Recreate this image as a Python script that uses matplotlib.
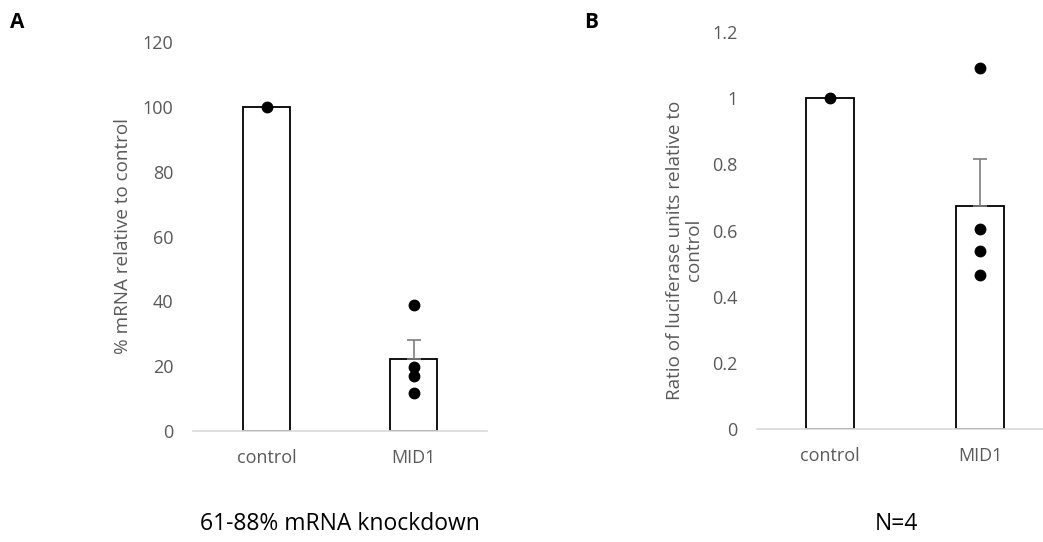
import matplotlib
matplotlib.use("Agg")
import matplotlib.pyplot as plt

categories = ["control", "MID1"]

# Panel A
a_means = [100, 22.1]
a_err_up = [0, 6.0]
a_points = {"control": [100], "MID1": [38.9, 19.8, 17.0, 11.8]}
a_ticks = [0, 20, 40, 60, 80, 100, 120]

# Panel B
b_means = [1.0, 0.675]
b_err_up = [0, 0.142]
b_points = {"control": [1.0], "MID1": [1.091, 0.605, 0.537, 0.467]}
b_ticks = [0, 0.2, 0.4, 0.6, 0.8, 1.0, 1.2]
b_ticklabels = ["0", "0.2", "0.4", "0.6", "0.8", "1", "1.2"]

plt.rcParams['font.family'] = ['Open Sans', 'DejaVu Sans']

fig = plt.figure(figsize=(10.43, 5.42), dpi=100)
grey = "#595959"

def style(ax, ylim, ticks, ticklabels, xlim):
    ax.set_ylim(*ylim)
    ax.set_xlim(*xlim)
    ax.set_yticks(ticks)
    ax.set_yticklabels(ticklabels)
    for s in ["top", "right", "left"]:
        ax.spines[s].set_visible(False)
    ax.spines["bottom"].set_color("#d9d9d9")
    ax.spines["bottom"].set_linewidth(1.2)
    ax.tick_params(axis="y", length=0, pad=14, labelsize=13, labelcolor=grey)
    ax.tick_params(axis="x", length=0, pad=13, labelsize=13, labelcolor=grey)
    ax.set_xticks(range(len(categories)))
    ax.set_xticklabels(categories)
    ax.patch.set_alpha(0)

def draw(ax, means, err_up, points):
    x = list(range(len(categories)))
    ax.bar(x, means, width=0.32, color="white", edgecolor="black", linewidth=1.3, zorder=2)
    ax.errorbar(x[1:], means[1:], yerr=[[0], err_up[1:]], fmt="none", ecolor="#7f7f7f",
                elinewidth=1.2, capsize=5, capthick=1.2, zorder=3)
    for i, c in enumerate(categories):
        ax.plot([i] * len(points[c]), points[c], "o", color="black", ms=7.5, zorder=4,
                clip_on=False)

# Panel A
axA = fig.add_axes([193/1043, 111/542, (487-193)/1043, (500-111)/542])
draw(axA, a_means, a_err_up, a_points)
style(axA, (0, 120), a_ticks, [str(t) for t in a_ticks], (-0.5, 1.5))
axA.set_ylabel("% mRNA relative to control", fontsize=13.6, color=grey, labelpad=8)

# Panel B
axB = fig.add_axes([757/1043, 113/542, (1043-757)/1043, (510-113)/542])
draw(axB, b_means, b_err_up, b_points)
style(axB, (0, 1.2), b_ticks, b_ticklabels, (-0.487, 1.42))
axB.set_ylabel("Ratio of luciferase units relative to\ncontrol", fontsize=13.6, color=grey,
               linespacing=1.05)
axB.yaxis.set_label_coords(-0.19, 0.451)

fig.text(10/1043, 1 - 22/542, "A", fontsize=15, fontweight="bold", va="center", ha="left")
fig.text(584/1043, 1 - 22/542, "B", fontsize=15, fontweight="bold", va="center", ha="left")
fig.text(340/1043, 1 - 524/542, "61-88% mRNA knockdown", fontsize=16.5, ha="center", va="center")
fig.text(896/1043, 1 - 524/542, "N=4", fontsize=16.5, ha="center", va="center")

fig.savefig("out.png", dpi=100, facecolor="white")
